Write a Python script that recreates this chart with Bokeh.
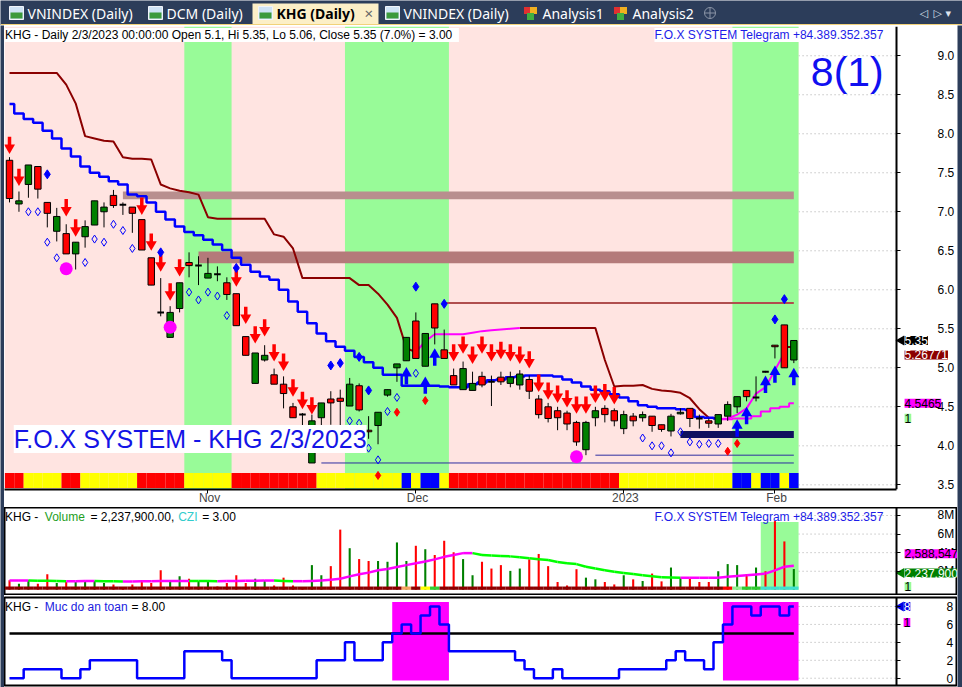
import math
from bokeh.plotting import figure
from bokeh.layouts import column, row
from bokeh.models import Range1d, FixedTicker, Label, NumeralTickFormatter, LinearAxis
from bokeh.core.properties import value
from bokeh.embed import file_html
from bokeh.resources import INLINE

NAN = float("nan")

# ---------------- data ----------------
month_ticks = [21, 43, 65, 81]
month_labels = ["Nov", "Dec", "2023", "Feb"]
price_ticks = [3.5, 4.0, 4.5, 5.0, 5.5, 6.0, 6.5, 7.0, 7.5, 8.0, 8.5, 9.0]
vol_ticks = [2e6, 4e6, 6e6, 8e6]
vol_tick_labels = ["2M", "4M", "6M", "8M"]
ind_ticks = [0, 2, 4, 6, 8]

opens = [7.66, 7.10, 7.35, 7.58, 7.12, 6.75, 6.72, 6.46, 6.68, 6.83,
         7.00, 7.21, 7.09, 7.06, 6.90, 6.41, 5.71, 5.39, 5.76, 6.35,
         6.31, 6.15, 6.20, 6.09, 5.95, 5.40, 4.80, 5.10, 4.91, 4.79,
         4.50, 4.40, 3.78, 4.36, 4.60, 4.61, 4.51, 4.77, 4.20, 4.26,
         4.65, 5.00, 5.09, 5.60, 5.02, 5.82, 5.23, 4.90, 4.72, 4.71,
         4.89, 4.82, 4.88, 4.80, 4.78, 4.85, 4.60, 4.50, 4.45, 4.42,
         4.30, 3.95, 4.36, 4.48, 4.45, 4.22, 4.38, 4.36, 4.38, 4.27,
         4.19, 4.41, 4.48, 4.35, 4.32, 4.28, 4.38, 4.50, 4.71, 4.62,
         4.95, 5.29, 5.55, 5.10]
highs = [7.70, 7.26, 7.60, 7.58, 7.12, 7.05, 6.84, 6.61, 6.89, 7.14,
         7.12, 7.28, 7.12, 7.06, 6.90, 6.41, 6.15, 5.79, 6.09, 6.48,
         6.43, 6.41, 6.30, 6.16, 5.95, 5.40, 5.19, 5.29, 4.99, 4.89,
         4.55, 4.42, 4.40, 4.55, 4.70, 4.72, 4.87, 4.80, 4.38, 4.43,
         4.72, 5.05, 5.39, 5.71, 5.44, 5.82, 5.49, 4.99, 5.08, 4.95,
         4.95, 4.90, 4.95, 4.95, 4.97, 4.90, 4.65, 4.55, 4.50, 4.45,
         4.32, 4.32, 4.50, 4.52, 4.48, 4.45, 4.42, 4.44, 4.38, 4.27,
         4.41, 4.48, 4.48, 4.40, 4.35, 4.40, 4.57, 4.63, 4.71, 4.89,
         4.96, 5.29, 5.55, 5.35]
lows = [7.12, 7.00, 7.18, 7.17, 6.80, 6.62, 6.46, 6.26, 6.54, 6.83,
        6.80, 7.05, 6.96, 6.73, 6.51, 6.06, 5.66, 5.39, 5.71, 6.16,
        6.06, 6.15, 6.11, 5.87, 5.54, 5.16, 4.80, 5.08, 4.79, 4.48,
        4.36, 4.16, 3.78, 4.14, 4.27, 4.25, 4.51, 4.44, 4.09, 4.02,
        4.63, 4.82, 5.09, 5.12, 5.02, 5.30, 5.12, 4.78, 4.72, 4.71,
        4.75, 4.51, 4.78, 4.75, 4.72, 4.60, 4.35, 4.30, 4.20, 4.20,
        4.00, 3.88, 4.25, 4.30, 4.25, 4.15, 4.25, 4.31, 4.18, 4.18,
        4.12, 4.40, 4.24, 4.22, 4.23, 4.23, 4.32, 4.42, 4.57, 4.57,
        4.94, 5.12, 5.00, 5.06]
closes = [7.17, 7.14, 7.60, 7.29, 6.98, 6.94, 6.46, 6.61, 6.81, 7.14,
          7.06, 7.08, 7.09, 6.98, 6.51, 6.06, 5.71, 5.71, 6.09, 6.31,
          6.31, 6.21, 6.20, 5.94, 5.54, 5.16, 5.19, 5.16, 4.79, 4.67,
          4.36, 4.40, 4.32, 4.55, 4.55, 4.57, 4.79, 4.46, 4.18, 4.43,
          4.72, 5.05, 5.39, 5.12, 5.44, 5.51, 5.12, 4.78, 4.99, 4.80,
          4.78, 4.82, 4.82, 4.88, 4.92, 4.70, 4.40, 4.35, 4.36, 4.28,
          4.05, 4.30, 4.45, 4.40, 4.32, 4.40, 4.32, 4.40, 4.26, 4.21,
          4.38, 4.43, 4.35, 4.35, 4.29, 4.40, 4.53, 4.63, 4.63, 4.62,
          4.95, 5.27, 5.00, 5.35]

# trailing stop lines (NaN = not drawn)
blue_stop = [8.38, 8.26, 8.19, 8.14, 8.04, 7.94, 7.81, 7.71, 7.58, 7.50,
             7.45, 7.39, 7.35, 7.22, 7.20, 7.12, 7.00, 6.90, 6.81, 6.74,
             6.70, 6.64, 6.58, 6.51, 6.41, 6.32, 6.23, 6.17, 6.13, 6.00,
             5.85, 5.72, 5.57, 5.44, 5.34, 5.27, 5.22, 5.14, 5.07, 5.00,
             4.91, 4.91, 4.77, 4.77, 4.77, 4.77, 4.76, 4.75, 4.75, 4.79,
             4.81, 4.84, 4.85, 4.88, 4.89, 4.90, 4.90, 4.90, 4.89, 4.85,
             4.81, 4.76, 4.72, 4.70, 4.66, 4.62, 4.57, 4.52, 4.50, 4.48,
             4.48, 4.47, 4.46, 4.37, 4.36, 4.35, NAN, NAN, NAN, NAN,
             NAN, NAN, NAN, NAN]
maroon_stop = [8.78, 8.78, 8.78, 8.78, 8.78, 8.78, 8.63, 8.39, 7.97, 7.94,
               7.91, 7.90, 7.70, 7.68, 7.68, 7.67, 7.35, 7.30, 7.27, 7.25,
               7.22, 6.93, 6.91, 6.91, 6.91, 6.91, 6.91, 6.91, 6.71, 6.68,
               6.53, 6.15, 6.15, 6.15, 6.15, 6.15, 6.15, 6.06, 6.06, 5.95,
               5.81, 5.64, 5.25, 5.20, NAN, NAN, NAN, NAN, NAN, NAN,
               NAN, NAN, NAN, NAN, 5.51, 5.51, 5.51, 5.51, 5.51, 5.51,
               5.51, 5.51, 5.51, 5.10, 4.76, 4.77, 4.77, 4.78, 4.73, 4.71,
               4.70, 4.68, 4.61, 4.47, 4.36, 4.35, NAN, NAN, NAN, NAN,
               NAN, NAN, NAN, 5.26771]
magenta_fast = [NAN] * 43 + [5.20, 5.34, 5.43, 5.43, 5.43, 5.43, 5.45, 5.47, 5.48, 5.49, 5.50, 5.51] \
    + [NAN] * 20 + [4.34, 4.35, 4.40, 4.48, 4.67, 4.75, 4.97, 5.19, NAN]
magenta_slow = [NAN] * 75 + [4.34, 4.34, 4.35, 4.35, 4.38, 4.44, 4.48, 4.50, 4.5465]

# horizontal levels: (low, high, first bar)
zones_band = [(7.16, 7.26, 12), (6.34, 6.49, 20)]
band_colors = ["#B88E8E", "#B47A7A"]
navy_box = (4.10, 4.19, 71)
resist_line = (5.83, 46)
support_lines = [(3.78, 33), (3.88, 62)]

green_zones = [(19, 23), (36, 46), (77, 83)]
strip_state = [0, 0, 1, 1, 1, 1, 0, 0, 1, 1, 1, 1, 1, 1, 0, 0, 0, 0, 0, 1,
               1, 1, 1, 1, 0, 0, 0, 0, 0, 0, 0, 0, 0, 1, 1, 1, 1, 1, 1, 1,
               1, 1, 2, 1, 2, 2, 1, 0, 0, 0, 0, 0, 0, 0, 0, 0, 0, 0, 0, 0,
               0, 0, 0, 0, 0, 1, 1, 1, 1, 1, 1, 1, 1, 1, 1, 1, 1, 2, 2, 1,
               2, 2, 1, 2]
strip_colors = ["#FF0000", "#FFFF00", "#0000FF"]

sell_bars = [0, 1, 6, 7, 14, 15, 16, 17, 18, 24, 25, 26, 27, 28, 29, 30, 31, 32,
             47, 48, 49, 50, 51, 52, 53, 54, 55, 56, 57, 58, 59, 60, 61, 62, 63, 64]
sell_tips = [7.77, 7.36, 6.97, 6.71, 6.99, 6.53, 6.26, 5.89, 6.20, 6.07, 5.59, 5.34,
             5.43, 5.11, 4.99, 4.66, 4.50, 4.43,
             5.11, 5.21, 5.08, 5.21, 5.11, 5.14, 5.11, 5.08, 5.02,
             4.72, 4.62, 4.58, 4.52, 4.44, 4.44, 4.58, 4.60, 4.56]
buy_bars = [42, 44, 45, 77, 78, 80, 81, 83]
buy_tips = [4.98, 4.86, 5.22, 4.31, 4.47, 4.87, 5.00, 4.97]
blue_dot_bars = [4, 16, 24, 34, 35, 37, 38, 43, 46, 81, 82]
blue_dot_vals = [7.48, 6.48, 6.28, 5.03, 5.06, 5.14, 4.71, 6.04, 5.82, 5.62, 5.88]
red_dot_bars = [39, 41, 44, 76, 77]
red_dot_vals = [3.62, 4.43, 4.58, 3.93, 4.03]
hollow_bars = [2, 3, 4, 5, 8, 9, 10, 11, 12, 13, 19, 20, 21, 22, 23, 36, 37, 38, 39,
               40, 41, 43, 67, 68, 69, 70, 71, 72, 73, 74, 75]
hollow_vals = [7.00, 7.00, 6.61, 6.41, 6.35, 6.65, 6.61, 6.84, 6.76, 6.53, 5.97, 5.87,
               5.97, 5.92, 5.67, 4.32, 4.29, 3.97, 3.82, 4.44, 4.62, 4.93, 4.10, 4.00,
               4.00, 3.91, 4.18, 4.05, 4.02, 4.03, 4.03]
pink_dot_bars = [6, 17, 60]
pink_dot_vals = [6.27, 5.52, 3.86]

vol_m = [1.02, 0.66, 1.02, 0.66, 1.68, 0.73, 0.84, 0.84, 0.95, 0.95,
         0.73, 0.58, 0.22, 0.58, 1.02, 0.73, 2.11, 1.02, 1.46, 1.20,
         0.95, 0.95, 0.36, 0.73, 1.57, 0.73, 1.20, 1.02, 0.47, 1.31,
         0.47, 0.29, 2.66, 1.57, 2.55, 6.48, 4.48, 3.31, 3.10, 3.10,
         3.02, 5.10, 3.10, 4.74, 4.37, 3.75, 5.28, 4.04, 3.31, 1.57,
         3.02, 2.29, 2.66, 2.04, 2.29, 3.28, 3.86, 2.55, 0.84, 0.47,
         2.22, 1.31, 1.13, 0.84, 0.58, 1.57, 1.13, 0.95, 1.75, 0.91,
         2.40, 1.31, 1.20, 0.84, 0.84, 2.00, 2.77, 2.66, 1.68, 2.40,
         2.00, 7.40, 5.21, 2.2379]
vol_up = [0, 1, 1, 0, 0, 1, 0, 1, 1, 1, 1, 0, 0, 0, 0, 0, 0, 1, 1, 0,
          1, 1, 0, 0, 0, 0, 1, 1, 0, 0, 0, 0, 1, 1, 0, 0, 1, 0, 0, 1,
          1, 1, 1, 0, 1, 0, 0, 0, 1, 1, 0, 0, 0, 1, 1, 0, 0, 0, 0, 0,
          0, 1, 1, 0, 0, 1, 0, 1, 0, 0, 1, 1, 0, 0, 0, 1, 1, 1, 0, 1,
          0, 0, 0, 1]
vol_ma_m = [1.00, 1.00, 1.00, 0.98, 0.97, 0.95, 0.93, 0.93, 0.94, 0.95,
            0.93, 0.92, 0.90, 0.90, 0.92, 0.93, 0.95, 0.96, 0.96, 0.96,
            0.95, 0.94, 0.93, 0.94, 0.96, 0.97, 0.99, 1.00, 1.00, 0.96,
            0.93, 0.93, 0.95, 1.00, 1.08, 1.20, 1.45, 1.68, 1.85, 2.10,
            2.25, 2.45, 2.66, 2.85, 3.05, 3.28, 3.55, 3.75, 3.95, 3.95,
            3.75, 3.70, 3.65, 3.60, 3.50, 3.39, 3.30, 3.20, 3.00, 2.85,
            2.77, 2.48, 2.30, 2.10, 1.95, 1.82, 1.70, 1.57, 1.45, 1.35,
            1.32, 1.30, 1.30, 1.30, 1.30, 1.31, 1.40, 1.50, 1.57, 1.65,
            1.75, 2.10, 2.48, 2.588547]
vol_state = [0] * 42 + [1, 0, 2, 3] + [0] * 30 + [4, 5, 3, 3, 6, 6, 6, 6]
vol_state_colors = ["#8B0000", "#F4A460", "#FFFF00", "#32CD32", "#FF0000", "#90EE90", "#40E0D0"]
vol_zones = [(80, 83)]

safety = [0, 0, 1, 1, 1, 1, 0, 0, 1, 2, 2, 2, 2, 2, 0, 0, 0, 0, 0, 3,
          3, 3, 3, 2, 0, 0, 0, 0, 0, 0, 0, 0, 0, 2, 2, 2, 4, 2, 2, 2,
          4, 5, 6, 5, 7, 8, 6, 3, 3, 3, 3, 3, 3, 3, 2, 1, 0, 0, 1, 0,
          0, 0, 0, 0, 0, 1, 1, 1, 1, 1, 2, 3, 2, 2, 1, 4, 6, 8, 8, 7,
          8, 8, 7, 8]
safety_level = 5

volume = [v * 1e6 for v in vol_m]
vol_ma = [v * 1e6 for v in vol_ma_m]
n = len(opens)
idx = list(range(n))

# ---------------- layout ----------------
FULL_W, FULL_H = 962, 687
LSTRIP, RSTRIP = 4, 5
CW = FULL_W - LSTRIP - RSTRIP          # 953 px: plot frame incl. right scale area
TAB_H, MAIN_H, VOL_H, IND_H = 25, 482, 88, 92
MAIN_FRAME_H = 462
X0, X1 = -0.53, 100.32                 # frame covers the right scale column as well
AXIS_X = 93.86                         # where the price scale is drawn
P0, P1 = 3.44, 9.375
V0, V1 = -0.61e6, 8.86e6
I0, I1 = -0.81, 9.0
FONT = "Liberation Sans"
PINK, LGREEN = "#FFE4E1", "#98FB98"
NAVY = "#2C3D5A"
xr = Range1d(X0, X1)
ppx = (P1 - P0) / MAIN_FRAME_H
vpx = (V1 - V0) / 88.0
ipx = (I1 - I0) / 88.0
LAB_X = 94.72


def add_label(fig, x, y, text, size=12, color="black", bg=None, font=FONT,
              align="left", baseline="middle", style="normal"):
    kw = dict(x=x, y=y, text=text, text_font=font, text_font_size=f"{size}px",
              text_color=color, text_align=align, text_baseline=baseline,
              text_font_style=style)
    if bg is not None:
        kw["background_fill_color"] = bg
    fig.add_layout(Label(**kw))


def add_scale(fig, ticks, standoff, formatter=None, overrides=None):
    ax = LinearAxis(fixed_location=AXIS_X, ticker=FixedTicker(ticks=ticks))
    ax.axis_line_width = 2
    ax.axis_line_color = "black"
    ax.major_tick_out = 4
    ax.major_tick_in = 0
    ax.minor_tick_out = 0
    ax.minor_tick_in = 0
    ax.major_label_standoff = standoff
    ax.major_label_text_font = FONT
    ax.major_label_text_font_size = "12px"
    ax.major_label_text_color = "black"
    if formatter is not None:
        ax.formatter = formatter
    if overrides is not None:
        ax.major_label_overrides = overrides
    fig.add_layout(ax, "right")
    # dotted grid, only visible right of the last bar
    fig.segment(x0=[n - 0.5] * len(ticks), x1=[AXIS_X] * len(ticks), y0=ticks, y1=ticks,
                line_color="#A8A8A8", line_dash="1 3")


def runs(flags):
    out, start = [], None
    for i, f in enumerate(flags):
        if f and start is None:
            start = i
        if not f and start is not None:
            out.append((start, i - 1))
            start = None
    if start is not None:
        out.append((start, len(flags) - 1))
    return out


def strip_fig(w, h):
    f = figure(width=w, height=h, toolbar_location=None, output_backend="svg",
               x_axis_location=None, y_axis_location=None, min_border=0,
               background_fill_color=NAVY, border_fill_color=NAVY, outline_line_color=None)
    f.grid.visible = False
    return f


def panel(height, yr, top=0, bottom=0, outline=True):
    f = figure(width=CW, height=height, x_range=xr, y_range=yr, y_axis_location=None,
               x_axis_location=None, toolbar_location=None, output_backend="svg",
               min_border_left=0, min_border_right=0, min_border_top=top, min_border_bottom=bottom,
               background_fill_color="white", border_fill_color="white",
               outline_line_color="black" if outline else None, outline_line_width=2)
    f.grid.visible = False
    return f


# ---------------- tab bar ----------------
tab = figure(width=FULL_W, height=TAB_H, x_range=Range1d(0, FULL_W), y_range=Range1d(25, 0),
             toolbar_location=None, output_backend="svg", x_axis_location=None,
             y_axis_location=None, min_border=0, background_fill_color=NAVY,
             border_fill_color=NAVY, outline_line_color=None)
tab.grid.visible = False
tab.quad(left=[252], right=[378], top=[3], bottom=[25], fill_color="#FCEFC7", line_color=None)
tab.segment(x0=[0], x1=[FULL_W], y0=[24.5], y1=[24.5], line_color="#F2D27A", line_width=2)
tab_names = ["VNINDEX (Daily)", "DCM (Daily)", "KHG (Daily)", "VNINDEX (Daily)"]
tab_x = [9, 148, 258, 385]
for name, tx in zip(tab_names, tab_x):
    tab.quad(left=[tx], right=[tx + 14], top=[6], bottom=[19], fill_color="#CFE3F5", line_color="#F0F4FA")
    tab.quad(left=[tx + 1], right=[tx + 13], top=[12], bottom=[18], fill_color="#3C9A3C", line_color=None)
    active = name == "KHG (Daily)"
    tab.text(x=[tx + 18], y=[12.5], text=[name], text_font=value("Noto Sans"),
             text_font_size="14px", text_baseline="middle",
             text_color="black" if active else "white",
             text_font_style="bold" if active else "normal")
tab.text(x=[364], y=[12.5], text=["\u00d7"], text_font=value("Noto Sans"), text_font_size="15px",
         text_baseline="middle", text_color="#666666")
for tx, name in zip([523, 613], ["Analysis1", "Analysis2"]):
    tab.scatter(x=[tx + 4, tx + 10, tx + 7], y=[10, 10, 16], marker="square", size=7,
                fill_color=["#E03030", "#F0B020", "#40B040"], line_color=None)
    tab.text(x=[tx + 19], y=[12.5], text=[name], text_font=value("Noto Sans"), text_font_size="14px",
             text_baseline="middle", text_color="white")
tab.scatter(x=[709.5], y=[12.5], marker="circle_cross", size=11, fill_color=None, line_color="#8A94A6")
tab.text(x=[919, 933, 945], y=[12.5, 12.5, 12.5], text=["\u25c1", "\u25b7", "\u25be"],
         text_font=value("DejaVu Sans"), text_font_size="11px", text_baseline="middle",
         text_color="#DDE3EE")

# ---------------- main price panel ----------------
p = figure(width=CW, height=MAIN_H, x_range=xr, y_range=Range1d(P0, P1),
           y_axis_location=None, toolbar_location=None, output_backend="svg",
           min_border_left=0, min_border_right=0, min_border_top=1, min_border_bottom=0,
           background_fill_color="white", border_fill_color="white", outline_line_color=None)
p.grid.visible = False
xa = p.xaxis[0]
xa.ticker = FixedTicker(ticks=month_ticks)
xa.major_label_overrides = {t: "\u00a0" + l for t, l in zip(month_ticks, month_labels)}
xa.bounds = (X0, AXIS_X)
xa.axis_line_width = 2
xa.major_tick_out = 4
xa.major_tick_in = 0
xa.minor_tick_out = 0
xa.minor_tick_in = 0
xa.major_label_standoff = -3
xa.major_label_text_align = "left"
xa.major_label_text_font = FONT
xa.major_label_text_font_size = "12px"
add_scale(p, price_ticks, 37, formatter=NumeralTickFormatter(format="0.0"))

# background zones
p.quad(left=[X0], right=[n - 0.5], bottom=[P0], top=[P1], fill_color=PINK, line_color=None)
p.quad(left=[a - 0.5 for a, b in green_zones], right=[b + 0.5 for a, b in green_zones],
       bottom=P0, top=P1, fill_color=LGREEN, line_color=None)

# state strip at the bottom
strip_lo, strip_hi = P0 + 1.5 * ppx, P0 + 16.5 * ppx
p.quad(left=[i - 0.5 for i in idx], right=[i + 0.5 for i in idx], bottom=strip_lo, top=strip_hi,
       fill_color=[strip_colors[s] for s in strip_state], line_color=None)

# horizontal zones / levels
for (lo, hi, start), col in zip(zones_band, band_colors):
    p.quad(left=[start], right=[n - 1], bottom=[lo], top=[hi], fill_color=col, line_color=None)
p.quad(left=[navy_box[2]], right=[n - 1], bottom=[navy_box[0]], top=[navy_box[1]],
       fill_color="#10105E", line_color=None)
p.segment(x0=[resist_line[1]], x1=[n - 1], y0=[resist_line[0]], y1=[resist_line[0]],
          line_color="#B04E4E", line_width=2)
p.segment(x0=[s for v, s in support_lines], x1=[n - 1] * len(support_lines),
          y0=[v for v, s in support_lines], y1=[v for v, s in support_lines],
          line_color="#2E2EA0", line_width=1)

# trailing lines
p.line(idx, maroon_stop, line_color="#8B0000", line_width=2)
p.scatter(x=[n - 1.4], y=[maroon_stop[-1]], marker="dash", size=5, line_color="#8B0000", line_width=2)
p.step(idx, blue_stop, mode="center", line_color="#0000FF", line_width=2.5)
p.line(idx, magenta_fast, line_color="#FF00FF", line_width=2)
p.step(idx, magenta_slow, mode="center", line_color="#FF00FF", line_width=2)

# candles
p.segment(x0=idx, x1=idx, y0=lows, y1=highs, line_color="black", line_width=1)
body_i = [i for i in idx if opens[i] != closes[i]]
p.vbar(x=body_i, width=0.68, top=[max(opens[i], closes[i]) for i in body_i],
       bottom=[min(opens[i], closes[i]) for i in body_i],
       fill_color=["#008000" if closes[i] > opens[i] else "#FF0000" for i in body_i],
       line_color="black", line_width=1)
doji_i = [i for i in idx if opens[i] == closes[i]]
p.segment(x0=[i - 0.35 for i in doji_i], x1=[i + 0.35 for i in doji_i],
          y0=[opens[i] for i in doji_i], y1=[opens[i] for i in doji_i], line_color="black", line_width=2)

# signals
p.segment(x0=sell_bars, x1=sell_bars, y0=[t + 6 * ppx for t in sell_tips],
          y1=[t + 15 * ppx for t in sell_tips], line_color="#FF0000", line_width=3.5)
p.scatter(x=sell_bars, y=[t + 4 * ppx for t in sell_tips], marker="inverted_triangle", size=11,
          fill_color="#FF0000", line_color=None)
p.segment(x0=buy_bars, x1=buy_bars, y0=[t - 6 * ppx for t in buy_tips],
          y1=[t - 15 * ppx for t in buy_tips], line_color="#0000FF", line_width=3.5)
p.scatter(x=buy_bars, y=[t - 4 * ppx for t in buy_tips], marker="triangle", size=11,
          fill_color="#0000FF", line_color=None)
p.scatter(x=hollow_bars, y=hollow_vals, marker="diamond", size=8, fill_color=None,
          line_color="#0000FF", line_width=1)
p.scatter(x=blue_dot_bars, y=blue_dot_vals, marker="diamond", size=9, fill_color="#0000FF",
          line_color="#0000FF")
p.scatter(x=red_dot_bars, y=red_dot_vals, marker="diamond", size=8, fill_color="#FF0000",
          line_color="#FF0000")
p.scatter(x=pink_dot_bars, y=pink_dot_vals, marker="circle", size=13, fill_color="#FF00FF",
          line_color=None)

# texts
add_label(p, -0.48, P1 - 1.5 * ppx, "KHG - Daily 2/3/2023 00:00:00 Open 5.1, Hi 5.35, Lo 5.06, "
          "Close 5.35 (7.0%)   = 3.00", size=12, bg="white", baseline="top")
add_label(p, 68.25, P1 - 1.5 * ppx, "F.O.X SYSTEM Telegram +84.389.352.357", size=12,
          color="#1C1CE8", bg="white", baseline="top")
add_label(p, 84.8, 9.09, "8(1)", size=41, color="#1010F0", baseline="top")
add_label(p, 0.45, 4.087, "F.O.X SYSTEM - KHG 2/3/2023", size=25, color="#1414E6", bg="white")
p.scatter(x=[LAB_X - 0.35], y=[closes[-1]], marker="triangle", angle=math.pi / 2, size=10,
          fill_color="black", line_color=None)
add_label(p, LAB_X, closes[-1], "5.35", size=12, color="white", bg="black")
add_label(p, LAB_X, maroon_stop[-1] - 8 * ppx, "5.26771", size=12, color="white", bg="#8B0000")
add_label(p, LAB_X, magenta_slow[-1], "4.5465", size=12, color="black", bg="#FF00FF")
add_label(p, LAB_X, magenta_slow[-1] - 15 * ppx, "1", size=12, color="black", bg=LGREEN)

# ---------------- volume panel ----------------
v = panel(VOL_H, Range1d(V0, V1))
add_scale(v, vol_ticks, 37, overrides={int(t): l for t, l in zip(vol_ticks, vol_tick_labels)})
for a, b in vol_zones:
    v.quad(left=[a - 0.5], right=[b + 0.5], bottom=[0], top=[max(volume[a:b + 1]) * 0.985],
           fill_color=LGREEN, line_color=None)
v.vbar(x=idx, width=0.22, top=volume, bottom=0,
       fill_color=["#008000" if u else "#FF0000" for u in vol_up], line_color=None)
v.quad(left=[i - 0.5 for i in idx], right=[i + 0.5 for i in idx], bottom=0, top=3.3 * vpx,
       fill_color=[vol_state_colors[s] for s in vol_state], line_color=None)
v.segment(x0=idx[:-1], x1=idx[1:], y0=vol_ma[:-1], y1=vol_ma[1:],
          line_color=["#FF00FF" if vol_ma[i + 1] >= vol_ma[i] else "#00FF00" for i in idx[:-1]],
          line_width=2.5)
vt = V1 - 2 * vpx
add_label(v, -0.48, vt, "KHG -", size=12, baseline="top")
add_label(v, 3.74, vt, "Volume", size=12, color="#1E9E1E", baseline="top")
add_label(v, 8.57, vt, "= 2,237,900.00,", size=12, baseline="top")
add_label(v, 17.85, vt, "CZI", size=12, color="#33CCCC", baseline="top")
add_label(v, 20.39, vt, "= 3.00", size=12, baseline="top")
add_label(v, 68.25, vt, "F.O.X SYSTEM Telegram +84.389.352.357", size=12, color="#1C1CE8",
          baseline="top")
add_label(v, LAB_X, vol_ma[-1] + 12 * vpx, "2,588,547", size=12, color="black", bg="#FF00FF")
v.scatter(x=[LAB_X - 0.35], y=[volume[-1] - 4 * vpx], marker="triangle", angle=math.pi / 2, size=10,
          fill_color="#008000", line_color=None)
add_label(v, LAB_X, volume[-1] - 4 * vpx, "2,237,900", size=12, color="white", bg="#008000")
add_label(v, LAB_X, 3.3 * vpx, "1", size=12, color="black", bg=LGREEN)

# ---------------- safety panel ----------------
s = panel(IND_H, Range1d(I0, I1), top=2, bottom=2)
add_scale(s, ind_ticks, 46)
hi_runs = runs([x >= safety_level for x in safety])
s.quad(left=[a - 0.5 for a, b in hi_runs], right=[b + 0.5 for a, b in hi_runs],
       bottom=-0.26, top=8.5, fill_color="#FF00FF", line_color=None)
s.segment(x0=[0], x1=[n - 1], y0=[safety_level], y1=[safety_level], line_color="black", line_width=2.5)
s.step(idx, safety, mode="center", line_color="#0000FF", line_width=2.5)
st = I1 - 2 * ipx
add_label(s, -0.48, st, "KHG -", size=12, baseline="top")
add_label(s, 3.74, st, "Muc do an toan", size=12, color="#2020E0", baseline="top")
add_label(s, 12.9, st, "= 8.00", size=12, baseline="top")
s.scatter(x=[LAB_X - 0.4], y=[safety[-1]], marker="triangle", angle=math.pi / 2, size=10,
          fill_color="#0000E6", line_color=None)
add_label(s, LAB_X - 0.1, safety[-1], "8", size=12, color="white", bg="#0000E6")
add_label(s, LAB_X - 0.1, safety[-1] - 16 * ipx, "1", size=12, color="black", bg="#FF00FF")

body = column(p, v, s, spacing=0)
layout = column(tab,
                row(strip_fig(LSTRIP, FULL_H - TAB_H), body, strip_fig(RSTRIP, FULL_H - TAB_H), spacing=0),
                spacing=0)
open("out.html", "w").write(file_html(layout, INLINE, title="KHG"))
